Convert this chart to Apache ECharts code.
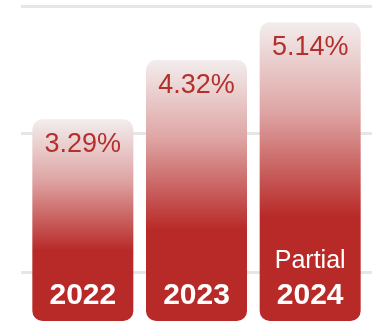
<!DOCTYPE html>
<html>
<head>
<meta charset="utf-8">
<style>
  html, body { margin: 0; padding: 0; background: #ffffff; }
  #chart { width: 372px; height: 323px; }
</style>
<script src="https://cdn.jsdelivr.net/npm/echarts@6/dist/echarts.min.js"></script>
</head>
<body>
<div id="chart"></div>
<script>
// Annual rates, one bar per year
const years = ['2022', '2023', '2024'];
const notes = ['', '', 'Partial'];
const rates = [3.29, 4.32, 5.14];
// Background guide rules, as fractions of the guide band height
const guideTicks = [0, 0.52, 1];

const FONT = '"Liberation Sans", Arial, Helvetica, sans-serif';
const RED = '#b82a28';

const chart = echarts.init(document.getElementById('chart'), null, { renderer: 'canvas' });

const barFill = new echarts.graphic.LinearGradient(0, 0, 0, 1, [
  { offset: 0, color: '#f3eded' },
  { offset: 0.3, color: '#dea5a4' },
  { offset: 0.65, color: RED },
  { offset: 1, color: RED }
]);

chart.setOption({
  animation: false,
  grid: [
    { left: 26, right: 5, top: 0, bottom: 2 },
    { left: 21, right: 0, top: 6, bottom: 51 }
  ],
  xAxis: [
    {
      type: 'category',
      gridIndex: 0,
      data: years,
      axisLine: { show: false },
      axisTick: { show: false },
      axisLabel: {
        inside: true,
        margin: 8,
        interval: 0,
        formatter: (v, i) => notes[i] ? '{note|' + notes[i] + '}\n{year|' + v + '}' : '{year|' + v + '}',
        rich: {
          note: { color: '#ffffff', fontFamily: FONT, fontSize: 25, lineHeight: 36 },
          year: { color: '#ffffff', fontFamily: FONT, fontSize: 30, fontWeight: 'bold', lineHeight: 34 }
        }
      },
      z: 10
    },
    { type: 'value', gridIndex: 1, show: false, min: 0, max: 1 }
  ],
  yAxis: [
    {
      type: 'log',
      gridIndex: 0,
      min: 1.302,
      max: 5.692,
      startValue: 1.302,
      show: false,
      splitLine: { show: false }
    },
    {
      type: 'value',
      gridIndex: 1,
      min: guideTicks[0],
      max: guideTicks[guideTicks.length - 1],
      axisLine: { show: false },
      axisTick: { show: false, customValues: guideTicks },
      axisLabel: { show: false, customValues: guideTicks },
      splitLine: { show: true, lineStyle: { color: '#e6e6e6', width: 3 } }
    }
  ],
  series: [
    {
      type: 'bar',
      xAxisIndex: 0,
      yAxisIndex: 0,
      data: rates,
      barWidth: 101,
      itemStyle: { color: barFill, borderRadius: 10 },
      label: {
        show: true,
        position: 'insideTop',
        distance: 12,
        formatter: p => p.value.toFixed(2) + '%',
        color: '#b3302c',
        fontFamily: FONT,
        fontSize: 27,
        lineHeight: 27
      },
      z: 3
    },
    { type: 'line', xAxisIndex: 1, yAxisIndex: 1, data: [], silent: true }
  ]
});
</script>
</body>
</html>
